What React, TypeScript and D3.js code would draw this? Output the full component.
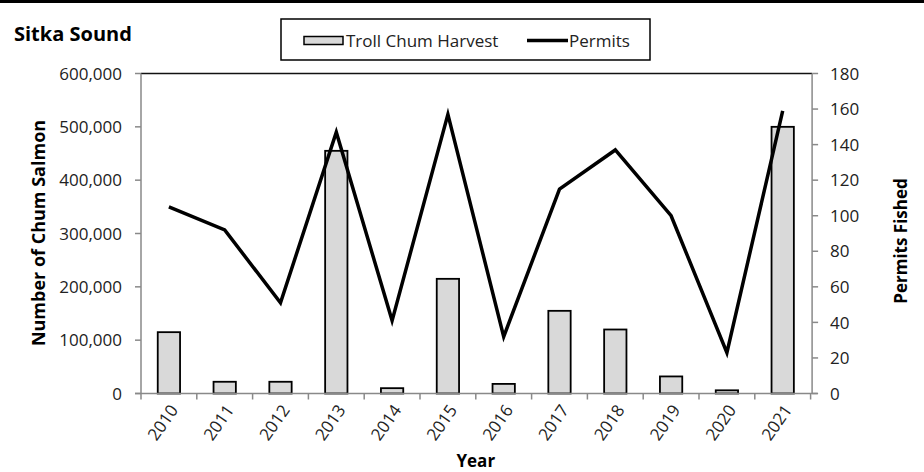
import React from "react";
import * as d3 from "d3";

const years = ["2010","2011","2012","2013","2014","2015","2016","2017","2018","2019","2020","2021"];
const harvest = [115000, 22000, 22000, 455000, 10000, 215000, 18000, 155000, 120000, 32000, 6000, 500000];
const permits = [105, 92, 51, 147, 41, 157, 32, 115, 137, 100, 23, 159];
const leftTicks = [0, 100000, 200000, 300000, 400000, 500000, 600000];
const rightTicks = [0, 20, 40, 60, 80, 100, 120, 140, 160, 180];

const W = 924, H = 472;
const L = 141, R = 810.6, T = 73.5, B = 393.5;
const FONT = "'Open Sans', sans-serif";
const GRAY = "#898989";

export default function App() {
  const x = d3.scaleBand<string>().domain(years).range([L, R]).padding(0);
  const yL = d3.scaleLinear().domain([0, 600000]).range([B, T]);
  const yR = d3.scaleLinear().domain([0, 180]).range([B, T]);
  const bw = x.bandwidth() * 0.4;
  const cx = (y: string) => (x(y) as number) + x.bandwidth() / 2;
  const line = d3.line<number>().x((_, i) => cx(years[i])).y((d) => yR(d));
  const fmt = d3.format(",");
  const bounds = years.map((y) => x(y) as number).concat([R]);

  return (
    <svg width={W} height={H} style={{ position: "fixed", left: 0, top: 0, background: "#fff" }} fontFamily={FONT}>
      <rect x={0} y={0} width={W} height={H} fill="#fff" />
      <line x1={0} x2={W} y1={1.5} y2={1.5} stroke="#000" strokeWidth={3} />
      <text x={14} y={40.5} fontSize={20} fontWeight="bold" fill="#000">Sitka Sound</text>

      {/* legend */}
      <rect x={281} y={19} width={369} height={41} fill="#fff" stroke="#000" strokeWidth={1.5} />
      <rect x={304} y={36.5} width={39} height={8} fill="#d9d9d9" stroke="#000" strokeWidth={1.5} />
      <text x={346} y={46.5} fontSize={17} fill="#222">Troll Chum Harvest</text>
      <line x1={527} x2={568} y1={40.5} y2={40.5} stroke="#000" strokeWidth={3.5} />
      <text x={569} y={46.5} fontSize={17} fill="#222">Permits</text>

      {/* bars */}
      {harvest.map((v, i) => (
        <rect key={years[i]} x={cx(years[i]) - bw / 2} y={yL(v)} width={bw} height={B - yL(v)}
          fill="#d9d9d9" stroke="#000" strokeWidth={1.8} />
      ))}

      {/* axes */}
      <line x1={L} x2={R + 1.5} y1={T} y2={T} stroke="#111" strokeWidth={1.5} />
      <line x1={L} x2={L} y1={T} y2={B} stroke={GRAY} strokeWidth={1.5} />
      <line x1={R + 1.5} x2={R + 1.5} y1={T} y2={B} stroke={GRAY} strokeWidth={1.5} />
      <line x1={L - 6} x2={R + 7} y1={B} y2={B} stroke={GRAY} strokeWidth={1.5} />
      {leftTicks.map((t) => (
        <g key={t}>
          <line x1={L - 6} x2={L} y1={yL(t)} y2={yL(t)} stroke={GRAY} strokeWidth={1.5} />
          <text x={122} y={yL(t)} dy="0.36em" textAnchor="end" fontSize={17} fill="#222">{fmt(t)}</text>
        </g>
      ))}
      {rightTicks.map((t) => (
        <g key={t}>
          <line x1={R + 1.5} x2={R + 7.5} y1={yR(t)} y2={yR(t)} stroke={GRAY} strokeWidth={1.5} />
          <text x={830} y={yR(t)} dy="0.36em" textAnchor="start" fontSize={17} fill="#222">{t}</text>
        </g>
      ))}
      {bounds.map((b, i) => (
        <line key={i} x1={b} x2={b} y1={B} y2={B + 6} stroke={GRAY} strokeWidth={1.5} />
      ))}
      {years.map((y) => (
        <text key={y} transform={`translate(${cx(y) + 5},${B + 13}) rotate(-55)`} textAnchor="end"
          dy="0.36em" fontSize={17} fill="#222">{y}</text>
      ))}

      {/* permits line */}
      <path d={line(permits) || ""} fill="none" stroke="#000" strokeWidth={3.5} strokeLinejoin="miter" />

      {/* axis titles */}
      <text transform={`translate(45,233) rotate(-90)`} textAnchor="middle" fontSize={18} fontWeight="bold" fill="#000">Number of Chum Salmon</text>
      <text transform={`translate(907,241) rotate(-90)`} textAnchor="middle" fontSize={17} fontWeight="bold" fill="#000">Permits Fished</text>
      <text x={(L + R) / 2} y={467} textAnchor="middle" fontSize={17} fontWeight="bold" fill="#000">Year</text>
    </svg>
  );
}
